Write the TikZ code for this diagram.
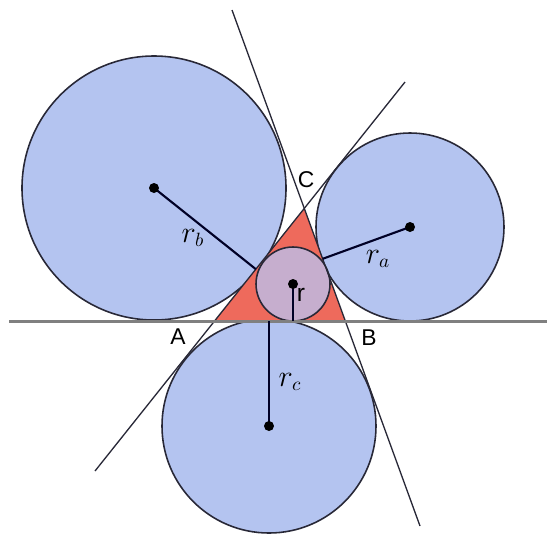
\documentclass[tikz,border=0pt]{standalone}
\usepackage{fontspec}
\setmainfont{Liberation Sans}
\usetikzlibrary{calc}

\definecolor{circblue}{RGB}{180,196,240}
\definecolor{trired}{RGB}{238,106,92}
\definecolor{inmauve}{RGB}{198,174,206}
\definecolor{edgegray}{RGB}{40,40,55}

\begin{document}
\begin{tikzpicture}[
  x=0.02cm, y=-0.02cm,
  font=\fontsize{13}{15}\selectfont,
  excircle/.style={draw=edgegray, line width=0.9pt, fill=circblue},
  incircle/.style={draw=edgegray, line width=0.9pt, fill=inmauve},
  sideline/.style={draw=edgegray, line width=0.75pt},
  radius/.style={draw=black!85!blue, line width=1.2pt},
  centre/.style={fill=black}
]
\useasboundingbox (0,0) rectangle (547,535);

% Lines through the sides
\coordinate (ab1) at (9,321);
\coordinate (ab2) at (547,321);
\coordinate (ac1) at (95,471);
\coordinate (ac2) at (405,82);
\coordinate (bc1) at (232,10);
\coordinate (bc2) at (420,526);

\coordinate (A) at (intersection of ac1--ac2 and ab1--ab2);
\coordinate (B) at (intersection of bc1--bc2 and ab1--ab2);
\coordinate (C) at (intersection of ac1--ac2 and bc1--bc2);

% Centres
\coordinate (I)  at (293,284);
\coordinate (Ia) at (410,227);
\coordinate (Ib) at (154,188);
\coordinate (Ic) at (269,426);

% Excircles
\draw[excircle] (Ib) circle (132);
\draw[excircle] (Ia) circle (94);
\draw[excircle] (Ic) circle (107);

% Triangle and incircle
\fill[trired] (A) -- (B) -- (C) -- cycle;
\draw[incircle] (I) circle (37);

\draw[sideline] (ac1) -- (ac2);
\draw[sideline] (bc1) -- (bc2);
\draw[draw=gray, line width=1.7pt] (ab1) -- (ab2);

% Radii
\draw[radius] (Ib) -- ($(A)!(Ib)!(C)$);
\draw[radius] (Ia) -- ($(B)!(Ia)!(C)$);
\draw[radius] (Ic) -- (Ic |- A);
\draw[radius] (I) -- (I |- A);
\foreach \p in {I,Ia,Ib,Ic}
  \fill[centre] (\p) circle (5);

% Labels
\node (labA) at (178,337) {A};
\node (labB) at (369,338) {B};
\node (labC) at (306,180) {C};
\node[font=\fontsize{14}{16}\selectfont] (labr) at (301,295) {r};
\node[font=\fontsize{16}{18}\selectfont] (labrb) at (193,238) {$r_b$};
\node[font=\fontsize{16}{18}\selectfont] (labra) at (378,259) {$r_a$};
\node[font=\fontsize{16}{18}\selectfont] (labrc) at (290,382) {$r_c$};
\end{tikzpicture}
\end{document}
